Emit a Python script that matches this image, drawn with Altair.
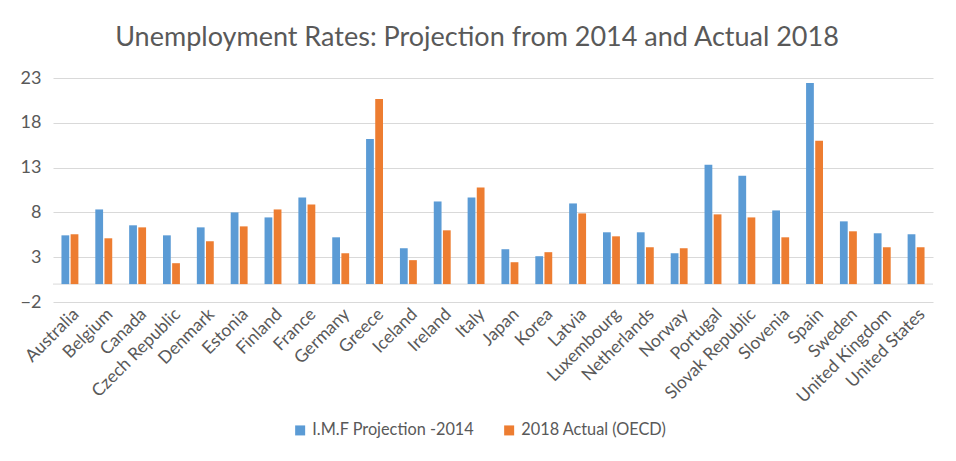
import altair as alt
import pandas as pd

countries = ["Australia", "Belgium", "Canada", "Czech Republic", "Denmark", "Estonia",
             "Finland", "France", "Germany", "Greece", "Iceland", "Ireland", "Italy",
             "Japan", "Korea", "Latvia", "Luxembourg", "Netherlands", "Norway",
             "Portugal", "Slovak Republic", "Slovenia", "Spain", "Sweden",
             "United Kingdom", "United States"]
imf_2014 = [5.44, 8.33, 6.56, 5.44, 6.33, 8.0, 7.44, 9.67, 5.22, 16.2, 4.0, 9.22, 9.67,
            3.89, 3.11, 9.0, 5.78, 5.78, 3.44, 13.33, 12.1, 8.22, 22.44, 7.0, 5.67, 5.56]
oecd_2018 = [5.56, 5.11, 6.33, 2.33, 4.78, 6.44, 8.33, 8.89, 3.44, 20.67, 2.67, 6.0, 10.78,
             2.44, 3.56, 7.89, 5.33, 4.11, 4.0, 7.78, 7.44, 5.22, 16.0, 5.89, 4.11, 4.11]
series_names = ["I.M.F Projection -2014", "2018 Actual (OECD)"]
series_colors = ["#5B9BD5", "#ED7D31"]
y_ticks = [-2, 3, 8, 13, 18, 23]

rows = []
for c, a, b in zip(countries, imf_2014, oecd_2018):
    rows.append({"country": c, "series": series_names[0], "value": a})
    rows.append({"country": c, "series": series_names[1], "value": b})
df = pd.DataFrame(rows)

FONT = "Lato"
TXT = "#595959"

bars = alt.Chart(df).mark_bar().encode(
    x=alt.X("country:N", sort=countries, title=None,
            scale=alt.Scale(paddingInner=0.5, paddingOuter=0.25),
            axis=alt.Axis(labelAngle=-45, labelFontSize=17.5, labelColor=TXT, labelFont=FONT,
                          domain=False, ticks=False, grid=False, labelPadding=3,
                          labelLimit=0)),
    xOffset=alt.XOffset("series:N", sort=series_names,
                        scale=alt.Scale(paddingInner=0.15)),
    y=alt.Y("value:Q", title=None,
            scale=alt.Scale(domain=[-2, 23], nice=False, zero=False),
            axis=alt.Axis(values=y_ticks, labelFontSize=18, labelColor=TXT, labelFont=FONT,
                          domain=False, ticks=False, gridColor="#d9d9d9", labelPadding=12)),
    color=alt.Color("series:N", sort=series_names,
                    scale=alt.Scale(domain=series_names, range=series_colors),
                    legend=alt.Legend(title=None, orient="none", direction="horizontal",
                                      legendX=239, legendY=344, symbolType="square",
                                      symbolSize=100, symbolStrokeWidth=0,
                                      labelFontSize=16.3, labelColor=TXT, labelFont=FONT,
                                      labelLimit=0, columnPadding=26, labelOffset=4)),
)

zero = alt.Chart(pd.DataFrame({"y": [0]})).mark_rule(color="#d9d9d9", strokeWidth=1).encode(
    y=alt.Y("y:Q", scale=alt.Scale(domain=[-2, 23], nice=False, zero=False))
)

chart = alt.layer(zero, bars).properties(
    width=880, height=224,
    title=alt.TitleParams("Unemployment Rates: Projection from 2014 and Actual 2018",
                          fontSize=27, font=FONT, color=TXT, fontWeight="normal",
                          anchor="middle", offset=17, dx=-16),
    autosize=alt.AutoSizeParams(type="none"),
    padding={"left": 45, "top": 70, "right": 15, "bottom": 143},
).configure_view(stroke=None)

chart.save("out.html", embed_options={"renderer": "svg", "actions": False})
